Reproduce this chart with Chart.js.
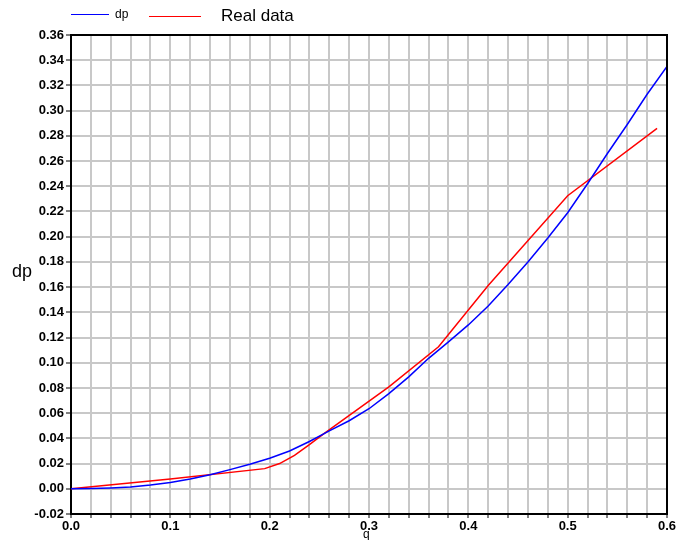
<!DOCTYPE html>
<html>
<head>
<meta charset="utf-8">
<script src="https://cdn.jsdelivr.net/npm/chart.js@4.4.0/dist/chart.umd.min.js"></script>
<style>
  body { margin: 0; background: #fff; }
  #wrap { position: relative; width: 680px; height: 540px; overflow: hidden; font-family: "Liberation Sans", Arial, sans-serif; }
  #wrap canvas { position: absolute; left: 0; top: 0; }
  .lab { position: absolute; white-space: nowrap; color: #000; }
  .swatch { position: absolute; height: 0; }
</style>
</head>
<body>
<div id="wrap">
  <canvas id="myChart" width="680" height="540"></canvas>
  <div class="swatch" style="left:71px; top:14px; width:38px; border-top:1px solid #0000ff;"></div>
  <div class="lab" style="left:115px; top:7px; font-size:12px;">dp</div>
  <div class="swatch" style="left:149px; top:16px; width:52px; border-top:1.5px solid #ff0000;"></div>
  <div class="lab" style="left:221px; top:6px; font-size:17px;">Real data</div>
  <div class="lab" style="left:12px; top:261px; font-size:18px;">dp</div>
  <div class="lab" style="left:363px; top:527px; font-size:12px;">q</div>
</div>
<script>
// values
var q_sim  = [0.00, 0.02, 0.04, 0.06, 0.08, 0.10, 0.12, 0.14, 0.16, 0.18, 0.20,
              0.22, 0.24, 0.26, 0.28, 0.30, 0.32, 0.34, 0.36, 0.38, 0.40,
              0.42, 0.44, 0.46, 0.48, 0.50, 0.52, 0.54, 0.56, 0.58, 0.60];
var dp_sim = [0.0000, 0.0002, 0.0007, 0.0015, 0.0030, 0.0050, 0.0078, 0.0112, 0.0152, 0.0195, 0.0242,
              0.0300, 0.0375, 0.0460, 0.0540, 0.0635, 0.0755, 0.0888, 0.1035, 0.1165, 0.1300,
              0.1450, 0.1620, 0.1800, 0.1990, 0.2190, 0.2420, 0.2660, 0.2890, 0.3130, 0.3350];

var q_real  = [0.00, 0.10, 0.195, 0.21, 0.225, 0.24, 0.255, 0.32, 0.37, 0.42, 0.50, 0.59];
var dp_real = [0.000, 0.0078, 0.016, 0.020, 0.0265, 0.035, 0.044, 0.0808, 0.1127, 0.1613, 0.2325, 0.286];

var x_min = 0, x_max = 0.6, x_step = 0.02;
var y_min = -0.02, y_max = 0.36, y_step = 0.02;

function toPoints(xs, ys) {
    return xs.map((x, i) => ({x: x, y: ys[i]}));
}

// dark frame on the top and right of the plot
var framePlugin = {
    id: 'frame',
    afterDraw(chart) {
        var a = chart.chartArea, ctx = chart.ctx;
        ctx.save();
        ctx.strokeStyle = '#000';
        ctx.lineWidth = 2;
        ctx.beginPath();
        ctx.moveTo(a.left, a.top);
        ctx.lineTo(a.right, a.top);
        ctx.lineTo(a.right, a.bottom);
        ctx.stroke();
        ctx.restore();
    }
};

var tickFont = {family: '"Liberation Sans", Arial, sans-serif', size: 13, weight: 'bold'};

var ctx = document.getElementById('myChart').getContext('2d');
var myChart = new Chart(ctx, {
    type: 'scatter',
    data: {
        datasets: [{
            label: 'dp',
            data: toPoints(q_sim, dp_sim),
            showLine: true,
            borderColor: '#0000ff',
            borderWidth: 1.5,
            pointRadius: 0,
            fill: false
        }, {
            label: 'Real data',
            data: toPoints(q_real, dp_real),
            showLine: true,
            borderColor: '#ff0000',
            borderWidth: 1.5,
            pointRadius: 0,
            fill: false
        }]
    },
    options: {
        responsive: false,
        animation: false,
        layout: {padding: {left: 0, top: 35, right: 13, bottom: 0}},
        plugins: {
            legend: {display: false},
            tooltip: {enabled: false}
        },
        scales: {
            x: {
                type: 'linear',
                min: x_min,
                max: x_max,
                afterFit: (scale) => { scale.height = 26; },
                border: {color: '#000', width: 2},
                grid: {color: '#c8c8c8', lineWidth: 2, tickLength: 4, tickColor: '#000', tickWidth: 1},
                ticks: {
                    stepSize: x_step,
                    autoSkip: false,
                    maxRotation: 0,
                    padding: 1,
                    color: '#000',
                    font: tickFont,
                    callback: (v) => {
                        var t = v * 10;
                        return Math.abs(t - Math.round(t)) < 1e-6 ? v.toFixed(1) : '';
                    }
                }
            },
            y: {
                type: 'linear',
                min: y_min,
                max: y_max,
                afterFit: (scale) => { scale.width = 71; },
                border: {color: '#000', width: 2},
                grid: {color: '#c8c8c8', lineWidth: 2, tickLength: 5, tickColor: '#000', tickWidth: 1},
                ticks: {
                    stepSize: y_step,
                    padding: 2,
                    color: '#000',
                    font: tickFont,
                    callback: (v) => v.toFixed(2)
                }
            }
        }
    },
    plugins: [framePlugin]
});
</script>
</body>
</html>
